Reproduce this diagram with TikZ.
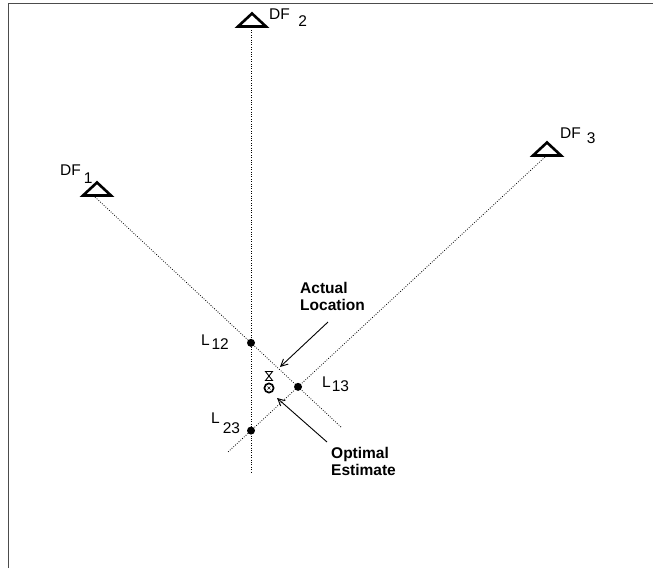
\documentclass[tikz,border=0pt]{standalone}
\usepackage{fontspec}
\setmainfont{Liberation Sans}
\usetikzlibrary{arrows.meta,intersections}
\newcommand{\lowr}[2][4pt]{\raisebox{-#1}{#2}}

\begin{document}
\begin{tikzpicture}[x=1pt, y=-1pt,
  every node/.style={font=\fontsize{15.5}{18}\selectfont, inner sep=0pt, anchor=base west},
  bearing/.style={line width=0.8pt, dash pattern=on 0.8pt off 1.6pt},
  note/.style={font=\fontsize{15.5}{17.5}\selectfont\bfseries, align=left, anchor=north west},
  pointer/.style={line width=0.9pt, -{Straight Barb[length=7pt, width=7pt]}},
  station/.pic={\draw[line width=2.6pt, line join=miter] (-14,6.5) -- (0,-6.5) -- (14,6.5) -- cycle;}]
  \useasboundingbox (0,0) rectangle (653,568);
  \draw[black!70, line width=1pt] (8.5,568) -- (8.5,3.5) -- (653,3.5);

  \pic at (97,189) {station};
  \pic at (252,20) {station};
  \pic at (547,149) {station};

  \node (df1) at (60,175) {DF\hspace{3pt}\lowr[8pt]{1}};
  \node (df2) at (269,19) {DF\hspace{8.5pt}\lowr[7pt]{2}};
  \node (df3) at (560,138) {DF\hspace{6pt}\lowr[5pt]{3}};

  \coordinate (f1) at (95,197);
  \coordinate (f2) at (251,30);
  \coordinate (f3) at (545,157);
  \coordinate (e1) at (341,427);
  \coordinate (e2) at (251,472);
  \coordinate (e3) at (228,452);

  \draw[bearing, name path=b1] (f1) -- (e1);
  \draw[bearing, name path=b2] (f2) -- (e2);
  \draw[bearing, name path=b3] (f3) -- (e3);

  \path[name intersections={of=b1 and b2, by=l12}];
  \path[name intersections={of=b1 and b3, by=l13}];
  \path[name intersections={of=b2 and b3, by=l23}];
  \fill (l12) circle (4);
  \fill (l13) circle (4);
  \fill (l23) circle (4);

  \node (n12) at (201,345) {L\hspace{1.7pt}\lowr{12}};
  \node (n13) at (322,387) {L\hspace{1pt}\lowr{13}};
  \node (n23) at (211,423) {L\hspace{3pt}\lowr[10pt]{23}};

  \coordinate (target) at (269,376);
  \draw[line width=0.9pt] (target) -- ++(-3.5,-4.5) -- ++(7,0) -- cycle;
  \draw[line width=0.9pt] (target) -- ++(-3.5,4.5) -- ++(7,0) -- cycle;
  \coordinate (estim) at (269,388);
  \draw[line width=1.7pt] (estim) circle (4.6);
  \draw[line width=0.6pt] (estim) ++(-1.5,-1.5) -- ++(3,3) ++(0,-3) -- ++(-3,3);

  \node[note] (actual) at (300,282) {Actual\\Location};
  \node[note] (optimal) at (331,447) {Optimal\\Estimate};

  \coordinate (at1) at (328,322);
  \coordinate (ah1) at (280,367);
  \coordinate (at2) at (327,442);
  \coordinate (ah2) at (277,398);
  \draw[pointer] (at1) -- (ah1);
  \draw[pointer] (at2) -- (ah2);
\end{tikzpicture}
\end{document}
